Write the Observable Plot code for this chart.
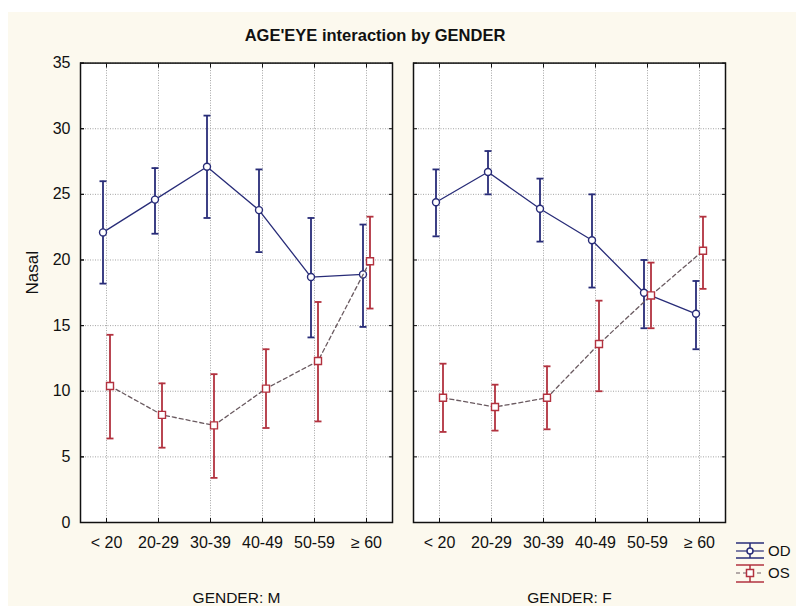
<!DOCTYPE html>
<html>
<head>
<meta charset="utf-8">
<script src="https://cdn.jsdelivr.net/npm/d3@7"></script>
<script src="https://cdn.jsdelivr.net/npm/@observablehq/plot@0.6"></script>
<style>
  body { margin: 0; background: #fff; }
  #page { position: relative; width: 796px; height: 606px; overflow: hidden; background: #fff;
          font-family: "Liberation Sans", Arial, sans-serif; color: #111; }
  #sheet { position: absolute; left: 8px; top: 12px; right: 0; bottom: 0; background: #fcf9ee; }
  #title { position: absolute; left: 0; top: 24px; width: 750px; text-align: center;
           font-weight: bold; font-size: 16.5px; line-height: 22px; }
  #plot { position: absolute; left: 0; top: 45px; }
  #legend { position: absolute; left: 732px; top: 536px; }
</style>
</head>
<body>
<div id="page">
  <div id="sheet"></div>
  <div id="title">AGE'EYE interaction by GENDER</div>
  <div id="plot"></div>
  <svg id="legend" width="62" height="50" font-family="Liberation Sans, Arial, sans-serif" font-size="15">
    <g stroke="#282c78" stroke-width="1.5" fill="none">
      <line x1="4" x2="32" y1="7" y2="7"></line>
      <line x1="4" x2="32" y1="22" y2="22"></line>
      <line x1="18" x2="18" y1="7" y2="22"></line>
      <line x1="4" x2="32" y1="15" y2="15" stroke-width="1.2"></line>
      <circle cx="18" cy="15" r="3" fill="#fff"></circle>
    </g>
    <text x="36" y="20" fill="#111">OD</text>
    <g stroke="#b2323f" stroke-width="1.5" fill="none">
      <line x1="4" x2="32" y1="29" y2="29"></line>
      <line x1="4" x2="32" y1="46" y2="46"></line>
      <line x1="18" x2="18" y1="29" y2="46"></line>
      <line x1="4" x2="32" y1="37" y2="37" stroke="#6a5a60" stroke-width="1.2" stroke-dasharray="4,3"></line>
      <rect x="14.5" y="33.5" width="7" height="7" fill="#fff"></rect>
    </g>
    <text x="36" y="42" fill="#111">OS</text>
  </svg>
</div>
<script>
// Panels and categories
const genders = ["M", "F"];
const ages = ["< 20", "20-29", "30-39", "40-49", "50-59", "≥ 60"];
const yTicks = [0, 5, 10, 15, 20, 25, 30, 35];

// Means and 95% confidence limits of Nasal, per eye and gender
const odMaleMean = [22.1, 24.6, 27.1, 23.8, 18.7, 18.9];
const odMaleLow  = [18.2, 22.0, 23.2, 20.6, 14.1, 14.9];
const odMaleHigh = [26.0, 27.0, 31.0, 26.9, 23.2, 22.7];

const osMaleMean = [10.4, 8.2, 7.4, 10.2, 12.3, 19.9];
const osMaleLow  = [6.4, 5.7, 3.4, 7.2, 7.7, 16.3];
const osMaleHigh = [14.3, 10.6, 11.3, 13.2, 16.8, 23.3];

const odFemaleMean = [24.4, 26.7, 23.9, 21.5, 17.5, 15.9];
const odFemaleLow  = [21.8, 25.0, 21.4, 17.9, 14.8, 13.2];
const odFemaleHigh = [26.9, 28.3, 26.2, 25.0, 20.0, 18.4];

const osFemaleMean = [9.5, 8.8, 9.5, 13.6, 17.3, 20.7];
const osFemaleLow  = [6.9, 7.0, 7.1, 10.0, 14.8, 17.8];
const osFemaleHigh = [12.1, 10.5, 11.9, 16.9, 19.8, 23.3];

// Long-format table built from the arrays above
const rows = [];
function addSeries(gender, eye, mean, low, high) {
  ages.forEach((age, i) => rows.push({gender, eye, age, mean: mean[i], low: low[i], high: high[i]}));
}
addSeries("M", "OD", odMaleMean, odMaleLow, odMaleHigh);
addSeries("M", "OS", osMaleMean, osMaleLow, osMaleHigh);
addSeries("F", "OD", odFemaleMean, odFemaleLow, odFemaleHigh);
addSeries("F", "OS", osFemaleMean, osFemaleLow, osFemaleHigh);

// Horizontal whisker cap drawn as a dot symbol
const cap = {
  draw(context, size) {
    const w = Math.sqrt(size / Math.PI);
    context.moveTo(-w, 0);
    context.lineTo(w, 0);
  }
};

function seriesMarks(eye, color, lineColor, dash, symbol, r, dx) {
  const data = rows.filter(d => d.eye === eye);
  const base = {fx: "gender", x: "age", dx};
  return [
    Plot.line(data, {...base, y: "mean", stroke: lineColor, strokeWidth: 1.3, strokeDasharray: dash}),
    Plot.ruleX(data, {...base, y1: "low", y2: "high", stroke: color, strokeWidth: 1.8}),
    Plot.dot(data, {...base, y: "low", symbol: cap, r: 3.5, stroke: color, strokeWidth: 1.8}),
    Plot.dot(data, {...base, y: "high", symbol: cap, r: 3.5, stroke: color, strokeWidth: 1.8}),
    Plot.dot(data, {...base, y: "mean", symbol, r, fill: "white", stroke: color, strokeWidth: 1.4})
  ];
}

const gridStyle = {stroke: "#9a9a9a", strokeOpacity: 0.9, strokeDasharray: "1,1.5"};

const chart = Plot.plot({
  width: 796,
  height: 561,
  marginTop: 17.6,
  marginBottom: 84,
  marginLeft: 79,
  marginRight: 71,
  style: {background: "transparent", fontFamily: '"Liberation Sans", Arial, sans-serif', fontSize: "16px", color: "#111"},
  fx: {domain: genders, paddingInner: 0.064, paddingOuter: 0},
  x: {type: "point", domain: ages, padding: 0.5},
  y: {domain: [0, 35]},
  marks: [
    Plot.frame({fill: "white", stroke: null}),
    Plot.gridY({ticks: yTicks, ...gridStyle}),
    Plot.gridX(gridStyle),
    Plot.frame({stroke: "#111", strokeWidth: 1.5}),
    Plot.axisY({ticks: yTicks, tickSize: -4, tickPadding: 14, label: null}),
    Plot.axisY({ticks: yTicks, anchor: "left", tickSize: -4, tickFormat: () => "", facetAnchor: null, label: null}),
    Plot.axisY({ticks: yTicks, anchor: "right", tickSize: -4, tickFormat: () => "", facetAnchor: null, label: null}),
    Plot.axisX({anchor: "bottom", tickSize: -4, tickPadding: 18, label: null}),
    Plot.axisX({anchor: "top", tickSize: -4, tickFormat: () => "", label: null}),
    Plot.axisFx({anchor: "bottom", tickSize: 0, tickPadding: 69, fontSize: 15.5, tickFormat: g => `GENDER: ${g}`, label: null}),
    Plot.text([{gender: "M", label: "Nasal"}], {
      fx: "gender", text: "label", frameAnchor: "left", textAnchor: "middle",
      rotate: -90, dx: -48, dy: -20, fontSize: 17
    }),
    ...seriesMarks("OD", "#282c78", "#282c78", null, "circle", 3.5, -3.5),
    ...seriesMarks("OS", "#b2323f", "#6a5a60", "4,3", "square", 3.95, 3.5)
  ]
});
document.getElementById("plot").append(chart);
</script>
</body>
</html>
